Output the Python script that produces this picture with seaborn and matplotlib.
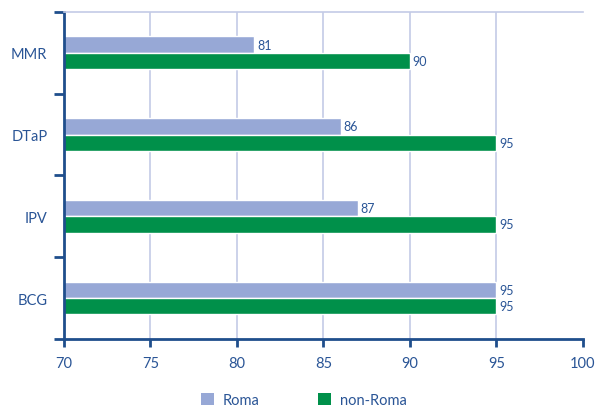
import matplotlib
matplotlib.use("Agg")
import matplotlib.pyplot as plt
from matplotlib.patches import Patch
import seaborn as sns
import pandas as pd

vaccines = ["MMR", "DTaP", "IPV", "BCG"]
roma = [81, 86, 87, 95]
non_roma = [90, 95, 95, 95]
groups = ["Roma", "non-Roma"]
x_ticks = [70, 75, 80, 85, 90, 95, 100]

df = pd.DataFrame({
    "vaccine": vaccines * 2,
    "group": [groups[0]] * len(vaccines) + [groups[1]] * len(vaccines),
    "value": roma + non_roma,
})

sns.set_style("white")
plt.rcParams["font.family"] = ["Lato", "DejaVu Sans"]

axis_blue = "#1f4e8c"
text_blue = "#2a5596"
grid_col = "#c3cbe6"
palette = {"Roma": "#97a8d6", "non-Roma": "#00904a"}

fig = plt.figure(figsize=(6.07, 4.10), dpi=100)
ax = fig.add_axes([0.1054, 0.1707, 0.855, 0.798])

sns.barplot(data=df, y="vaccine", x="value", hue="group", order=vaccines,
            hue_order=groups, palette=palette, orient="h", width=0.4,
            saturation=1, ax=ax, legend=False)

ax.set_xlim(70, 100)
ax.set_ylim(len(vaccines) - 0.5, -0.5)
ax.set_xticks(x_ticks)
ax.set_xticklabels([str(t) for t in x_ticks], color=text_blue, fontsize=10.5)
ax.tick_params(axis="x", bottom=True, direction="out", length=6, width=2,
               color=axis_blue, pad=6)

# category boundaries carry the tick marks, names sit between them
ax.set_yticks([i - 0.5 for i in range(len(vaccines) + 1)])
ax.set_yticklabels([])
ax.tick_params(axis="y", which="major", left=True, direction="out", length=7,
               width=2, color=axis_blue)
ax.set_yticks(range(len(vaccines)), minor=True)
ax.set_yticklabels(vaccines, minor=True, color=text_blue, fontsize=10.5)
ax.tick_params(axis="y", which="minor", left=True, length=0, pad=12)

ax.set_xlabel("")
ax.set_ylabel("")

ax.grid(axis="x", color=grid_col, linewidth=1.2)
ax.grid(axis="y", visible=False)
ax.xaxis.get_gridlines()[0].set_visible(False)
ax.xaxis.get_gridlines()[-1].set_visible(False)
ax.set_axisbelow(True)

for side in ["left", "bottom"]:
    ax.spines[side].set_color(axis_blue)
    ax.spines[side].set_linewidth(2)
ax.spines["right"].set_visible(False)
ax.spines["top"].set_color(grid_col)
ax.spines["top"].set_linewidth(1.2)

for cont in ax.containers:
    ax.bar_label(cont, fmt="%d", padding=2, color=text_blue, fontsize=9)

handles = [Patch(facecolor=palette[g], edgecolor="none", label=g) for g in groups]
fig.legend(handles=handles, loc="center", bbox_to_anchor=(0.5, 0.022), ncol=2,
           frameon=False, fontsize=10.5, handlelength=0.9, handleheight=0.9,
           columnspacing=4, handletextpad=0.6, labelcolor=text_blue)

fig.savefig("out.png", dpi=100)
